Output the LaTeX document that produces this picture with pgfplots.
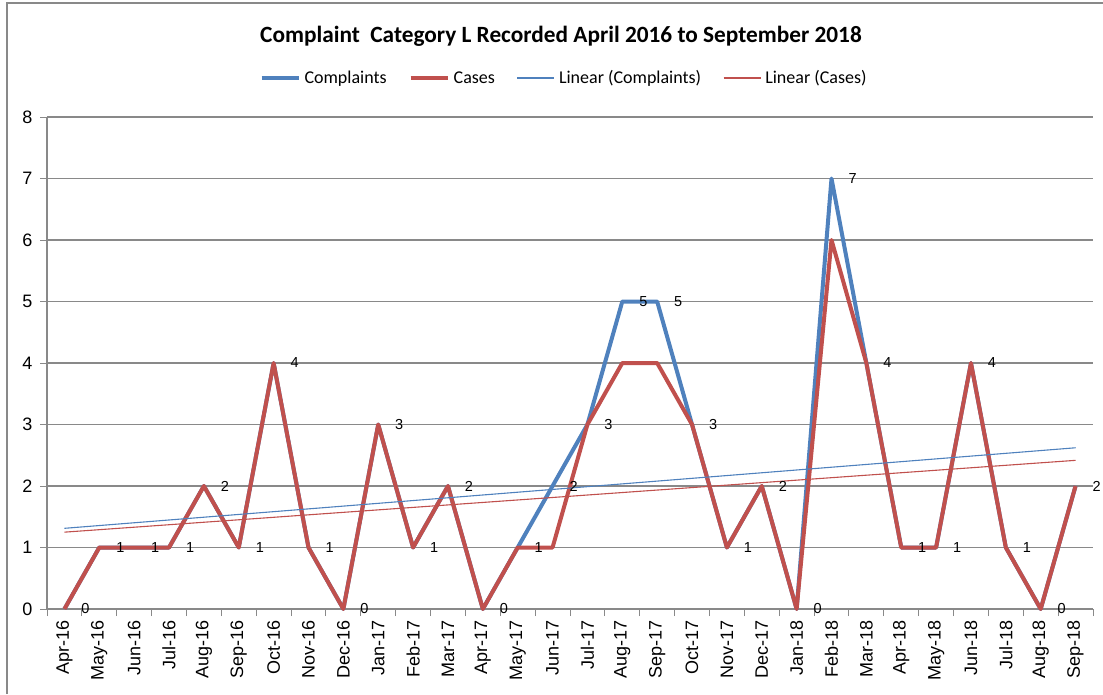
\documentclass[border=0pt]{standalone}
\usepackage{pgfplots}
\pgfplotsset{compat=1.18}
\usepackage{fontspec}
\setmainfont{Liberation Sans}
\newfontfamily\carlito{Carlito}
\definecolor{cblue}{HTML}{4F81BD}
\definecolor{cred}{HTML}{C0504D}
\definecolor{gridgray}{HTML}{898989}
\begin{document}
\begin{tikzpicture}[x=1pt,y=1pt]
\useasboundingbox (0,0) rectangle (1103,694);
\draw[gridgray, line width=1.5pt] (7,0) -- (7,691) -- (1103,691);
\node[font=\carlito\bfseries\fontsize{23.3}{27}\selectfont] at (561,658) {Complaint\ \ Category L Recorded April 2016 to September 2018};
\begin{axis}[at={(47pt,85pt)}, anchor=south west, scale only axis,
  width=1046pt, height=492pt,
  xmin=-0.5, xmax=29.5, ymin=0, ymax=8,
  clip=false,
  axis x line*=bottom, axis y line*=left,
  axis line style={gridgray, line width=1.2pt, -},
  xtick={0,...,29},
  xticklabels={Apr-16,May-16,Jun-16,Jul-16,Aug-16,Sep-16,Oct-16,Nov-16,Dec-16,Jan-17,Feb-17,Mar-17,Apr-17,May-17,Jun-17,Jul-17,Aug-17,Sep-17,Oct-17,Nov-17,Dec-17,Jan-18,Feb-18,Mar-18,Apr-18,May-18,Jun-18,Jul-18,Aug-18,Sep-18},
  minor xtick={-0.5,0.5,...,29.5},
  major x tick style={draw=none},
  minor x tick style={gridgray, line width=1pt},
  ytick={0,...,8},
  y tick style={gridgray, line width=1pt},
  major tick length=7pt, minor tick length=7pt,
  tick align=outside,
  ymajorgrids,
  grid style={gridgray, line width=1.2pt},
  /pgf/number format/assume math mode=true,
  xticklabel style={rotate=90, anchor=east, font=\fontsize{18}{20}\selectfont, xshift=-1pt},
  yticklabel style={font=\fontsize{18}{20}\selectfont, xshift=-4pt},
  legend columns=4,
  legend style={at={(0.4943,1.0793)}, anchor=center, draw=none, fill=none,
    font=\carlito\fontsize{18}{20}\selectfont,
    /tikz/every even column/.append style={column sep=20pt},
    /tikz/every odd column/.append style={column sep=2pt}},
  legend image code/.code={\draw[#1] (0pt,0pt) -- (37pt,0pt);},
]
\addplot[cblue, line width=4pt, line join=round,
  nodes near coords,
  every node near coord/.append style={anchor=west, xshift=15pt, text=black, inner sep=0pt, font=\fontsize{14.5}{16}\selectfont}]
  coordinates {(0,0)(1,1)(2,1)(3,1)(4,2)(5,1)(6,4)(7,1)(8,0)(9,3)(10,1)(11,2)(12,0)(13,1)(14,2)(15,3)(16,5)(17,5)(18,3)(19,1)(20,2)(21,0)(22,7)(23,4)(24,1)(25,1)(26,4)(27,1)(28,0)(29,2)};
\addlegendentry{Complaints}
\addplot[cred, line width=4pt, line join=round]
  coordinates {(0,0)(1,1)(2,1)(3,1)(4,2)(5,1)(6,4)(7,1)(8,0)(9,3)(10,1)(11,2)(12,0)(13,1)(14,1)(15,3)(16,4)(17,4)(18,3)(19,1)(20,2)(21,0)(22,6)(23,4)(24,1)(25,1)(26,4)(27,1)(28,0)(29,2)};
\addlegendentry{Cases}
\addplot[cblue, line width=1.1pt] coordinates {(0,1.3119)(29,2.6216)};
\addlegendentry{Linear (Complaints)}
\addplot[cred, line width=1.1pt] coordinates {(0,1.2495)(29,2.4172)};
\addlegendentry{Linear (Cases)}
\end{axis}
\end{tikzpicture}
\end{document}
